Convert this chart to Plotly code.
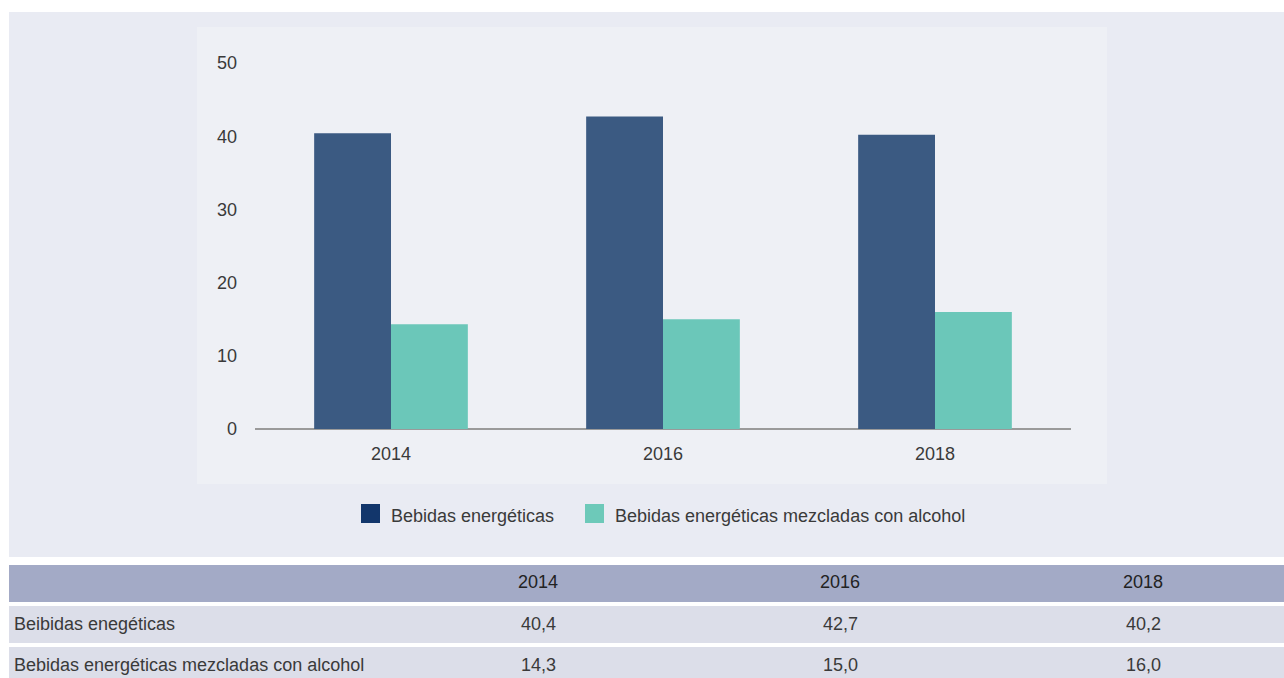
import plotly.graph_objects as go

years = ["2014", "2016", "2018"]
energeticas = [40.4, 42.7, 40.2]
mezcladas = [14.3, 15.0, 16.0]
series_names = ["Bebidas energéticas", "Bebidas energéticas mezcladas con alcohol"]
table_row_labels = ["Beibidas enegéticas", "Bebidas energéticas mezcladas con alcohol"]
y_ticks = [0, 10, 20, 30, 40, 50]

W, H = 1284, 678
FONT = "Liberation Sans, Arial, sans-serif"
TXT = "#3a3a3a"
FS = 18
C_DARK = "#3b5a82"
C_TEAL = "#6bc7b9"
C_DARK_LEG = "#12366b"
C_TEAL_LEG = "#6dc9b9"


def px(x):
    return x / W


def py(y):
    return 1 - y / H


fig = go.Figure()
fig.add_trace(go.Bar(x=years, y=energeticas, name=series_names[0], marker_color=C_DARK,
                     marker_line_width=0, showlegend=False))
fig.add_trace(go.Bar(x=years, y=mezcladas, name=series_names[1], marker_color=C_TEAL,
                     marker_line_width=0, showlegend=False))

shapes = [
    # outer panel
    dict(type="rect", xref="paper", yref="paper", x0=px(9), x1=px(1284), y0=py(557), y1=py(12),
         fillcolor="#e9ebf3", line_width=0, layer="below"),
    # inner chart panel
    dict(type="rect", xref="paper", yref="paper", x0=px(197), x1=px(1107), y0=py(484), y1=py(27),
         fillcolor="#eef0f5", line_width=0, layer="below"),
    # table header
    dict(type="rect", xref="paper", yref="paper", x0=px(9), x1=px(1284), y0=py(602), y1=py(565),
         fillcolor="#a3aac6", line_width=0, layer="below"),
    dict(type="rect", xref="paper", yref="paper", x0=px(9), x1=px(1284), y0=py(643), y1=py(606),
         fillcolor="#dcdee9", line_width=0, layer="below"),
    dict(type="rect", xref="paper", yref="paper", x0=px(9), x1=px(1284), y0=py(680), y1=py(647),
         fillcolor="#dcdee9", line_width=0, layer="below"),
]

annotations = []
# legend (manual)
leg_items = [(361, 389, C_DARK_LEG, series_names[0]), (585, 613, C_TEAL_LEG, series_names[1])]
for sx, tx, col, name in leg_items:
    shapes.append(dict(type="rect", xref="paper", yref="paper", x0=px(sx), x1=px(sx + 19),
                       y0=py(523), y1=py(504), fillcolor=col, line_width=0))
    annotations.append(dict(text=name, xref="paper", yref="paper", x=px(tx), y=py(516),
                            xanchor="left", yanchor="middle", showarrow=False,
                            font=dict(family=FONT, size=FS, color=TXT)))

# table
col_centers = [538, 840, 1143]
row_centers = [624, 665]
for cx, yr in zip(col_centers, years):
    annotations.append(dict(text=yr, xref="paper", yref="paper", x=px(cx), y=py(582),
                            xanchor="center", yanchor="middle", showarrow=False,
                            font=dict(family=FONT, size=FS, color="#222")))
for ry, label, vals in zip(row_centers, table_row_labels, [energeticas, mezcladas]):
    annotations.append(dict(text=label, xref="paper", yref="paper", x=px(12), y=py(ry),
                            xanchor="left", yanchor="middle", showarrow=False,
                            font=dict(family=FONT, size=FS, color=TXT)))
    for cx, v in zip(col_centers, vals):
        annotations.append(dict(text=f"{v:.1f}".replace(".", ","), xref="paper", yref="paper",
                                x=px(cx), y=py(ry), xanchor="center", yanchor="middle",
                                showarrow=False, font=dict(family=FONT, size=FS, color=TXT)))

fig.update_layout(
    width=W, height=H,
    margin=dict(l=0, r=0, t=0, b=0, pad=0, autoexpand=False),
    paper_bgcolor="white",
    plot_bgcolor="rgba(0,0,0,0)",
    barmode="group",
    bargap=0.435,
    bargroupgap=0,
    showlegend=False,
    shapes=shapes,
    annotations=annotations,
    font=dict(family=FONT, size=FS, color=TXT),
    xaxis=dict(domain=[px(255), px(1071)], range=[-0.5, 2.5], showgrid=False, automargin=False,
               showline=False, zeroline=False, ticks="", ticklabelstandoff=12,
               tickfont=dict(family=FONT, size=FS, color=TXT)),
    yaxis=dict(domain=[py(429), py(63)], range=[0, 50], tickvals=y_ticks, automargin=False,
               showgrid=False, zeroline=True, zerolinecolor="#9a9a9a", zerolinewidth=2,
               showline=False, ticks="", ticklabelstandoff=17,
               tickfont=dict(family=FONT, size=FS, color=TXT)),
)

post = (
    "document.documentElement.style.margin='0';"
    "document.documentElement.style.overflow='hidden';"
    "document.body.style.margin='0';"
    "document.body.style.overflow='hidden';"
    "var gd=document.getElementById('{plot_id}');"
    "gd.style.position='fixed';gd.style.top='0px';gd.style.left='0px';"
)
fig.write_html("out.html", post_script=post, config={"displayModeBar": False})
